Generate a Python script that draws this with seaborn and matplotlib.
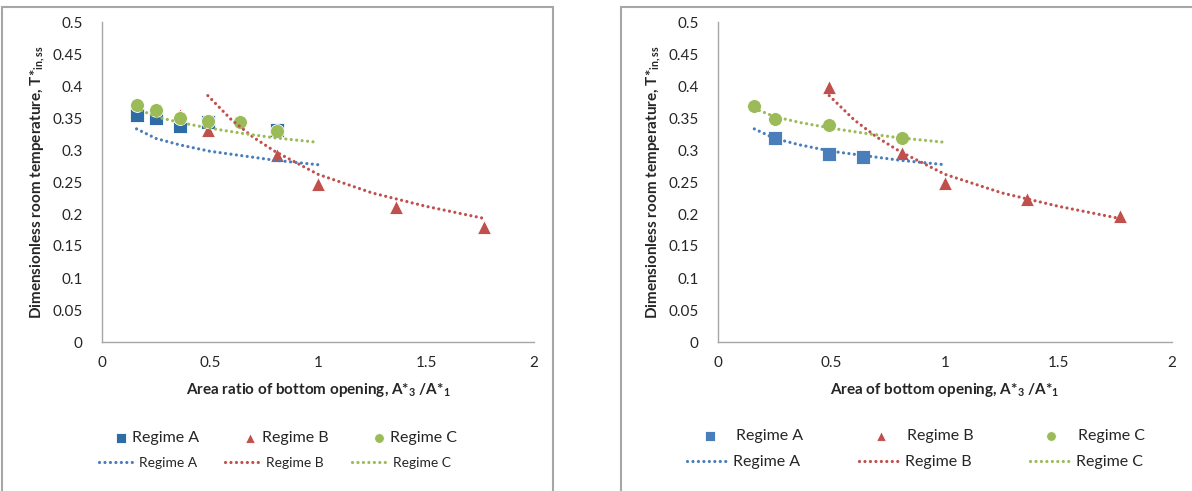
import numpy as np
import pandas as pd
import matplotlib
matplotlib.use("Agg")
import matplotlib.pyplot as plt
import seaborn as sns
from matplotlib.patches import Rectangle

# ---- data ----
left_A_x = [0.16, 0.25, 0.36, 0.49, 0.81]
left_A_y = [0.355, 0.350, 0.337, 0.344, 0.332]
left_B_x = [0.36, 0.49, 0.81, 1.00, 1.36, 1.77]
left_B_y = [0.354, 0.331, 0.292, 0.247, 0.211, 0.179]
left_C_x = [0.16, 0.25, 0.36, 0.49, 0.64, 0.81]
left_C_y = [0.371, 0.362, 0.350, 0.345, 0.343, 0.330]

right_A_x = [0.25, 0.49, 0.64]
right_A_y = [0.319, 0.294, 0.289]
right_B_x = [0.49, 0.81, 1.00, 1.36, 1.77]
right_B_y = [0.398, 0.296, 0.248, 0.223, 0.197]
right_C_x = [0.16, 0.25, 0.49, 0.81]
right_C_y = [0.368, 0.349, 0.339, 0.319]

# trendlines (same in both panels)
trend_A_x = [0.16, 0.25, 0.36, 0.50, 0.65, 0.80, 1.00]
trend_A_y = [0.333, 0.318, 0.308, 0.298, 0.291, 0.284, 0.277]
trend_B_x = [0.49, 0.60, 0.70, 0.80, 1.00, 1.25, 1.50, 1.77]
trend_B_y = [0.385, 0.347, 0.320, 0.298, 0.262, 0.233, 0.212, 0.193]
trend_C_x = [0.16, 0.25, 0.36, 0.50, 0.65, 0.80, 1.00]
trend_C_y = [0.365, 0.352, 0.343, 0.334, 0.326, 0.319, 0.312]

regimes = ["Regime A", "Regime B", "Regime C"]
y_ticks = [0, 0.05, 0.1, 0.15, 0.2, 0.25, 0.3, 0.35, 0.4, 0.45, 0.5]
y_ticklabels = ["0", "0.05", "0.1", "0.15", "0.2", "0.25", "0.3", "0.35", "0.4", "0.45", "0.5"]
x_ticks = [0, 0.5, 1, 1.5, 2]
x_ticklabels = ["0", "0.5", "1", "1.5", "2"]

sns.set_style("white")
plt.rcParams['font.family'] = ['Lato', 'DejaVu Sans']
plt.rcParams['mathtext.fontset'] = 'custom'
plt.rcParams['mathtext.rm'] = 'Lato'
plt.rcParams['mathtext.bf'] = 'Lato:bold'

line_colors = {"Regime A": "#4a7ebb", "Regime B": "#c0504d", "Regime C": "#9bbb59"}
markers = {"Regime A": "s", "Regime B": "^", "Regime C": "o"}
dotted = (0, (0.01, 1.7))

fig = plt.figure(figsize=(11.92, 4.91), dpi=100)

# chart frames like the Excel chart areas
fig.patches.append(Rectangle((2 / 1192, -0.1), 551 / 1192, 1.1 - 7 / 491, transform=fig.transFigure,
                             fill=False, edgecolor="#a6a6a6", linewidth=1.5))
fig.patches.append(Rectangle((621 / 1192, -0.1), 0.5, 1.1 - 7 / 491, transform=fig.transFigure,
                             fill=False, edgecolor="#a6a6a6", linewidth=1.5))

ax1 = fig.add_axes([102 / 1192, 1 - 342 / 491, 432 / 1192, 320 / 491])
ax2 = fig.add_axes([718 / 1192, 1 - 342 / 491, 454 / 1192, 320 / 491])

panels = [
    (ax1, [(left_A_x, left_A_y), (left_B_x, left_B_y), (left_C_x, left_C_y)],
     "#2e6ca5", "Area ratio of bottom opening, A*$_{\\mathbf{3}}$ /A*$_{\\mathbf{1}}$"),
    (ax2, [(right_A_x, right_A_y), (right_B_x, right_B_y), (right_C_x, right_C_y)],
     "#4a7ebb", "Area of bottom opening, A*$_{\\mathbf{3}}$ /A*$_{\\mathbf{1}}$"),
]
trends = [(trend_A_x, trend_A_y), (trend_B_x, trend_B_y), (trend_C_x, trend_C_y)]

legend_handles = []
for ax, series, sq_color, xlabel in panels:
    mk_colors = {"Regime A": sq_color, "Regime B": "#c0504d", "Regime C": "#9bbb59"}
    for name, (xs, ys) in zip(regimes, series):
        df = pd.DataFrame({"x": xs, "y": ys})
        sns.scatterplot(data=df, x="x", y="y", ax=ax, marker=markers[name],
                        color=mk_colors[name], s=100, linewidth=0.6,
                        edgecolor="white", label=name, zorder=3)
    for name, (xs, ys) in zip(regimes, trends):
        df = pd.DataFrame({"x": xs, "y": ys})
        sns.lineplot(data=df, x="x", y="y", ax=ax, color=line_colors[name],
                     linewidth=2.3, linestyle=dotted, label=name,
                     dash_capstyle="round", zorder=4)
    ax.set_xlim(0, 2)
    ax.set_ylim(0, 0.5)
    ax.set_xticks(x_ticks)
    ax.set_xticklabels(x_ticklabels, fontsize=11)
    ax.set_yticks(y_ticks)
    ax.set_yticklabels(y_ticklabels, fontsize=11)
    ax.tick_params(length=0, pad=10)
    ax.tick_params(axis="y", pad=14)
    for side in ["top", "right"]:
        ax.spines[side].set_visible(False)
    for side in ["left", "bottom"]:
        ax.spines[side].set_color("#a6a6a6")
        ax.spines[side].set_linewidth(1.0)
    ax.set_xlabel(xlabel, fontsize=11, fontweight="bold", labelpad=8)
    ax.set_ylabel("Dimensionless room temperature, T*$_{\\mathbf{in,ss}}$",
                  fontsize=11, fontweight="bold", labelpad=4)
    ax.get_legend().remove()
    h, l = ax.get_legend_handles_labels()
    legend_handles.append((h, l))

# legends below each panel: markers row and trendline row
(h1, l1), (h2, l2) = legend_handles
fig.legend(h1[:3], l1[:3], loc="center left", bbox_to_anchor=(97 / 1192, 1 - 438 / 491),
           ncol=3, frameon=False, fontsize=11.5, handletextpad=0.1, columnspacing=2.6,
           handlelength=1.2, markerscale=0.7)
fig.legend(h1[3:], l1[3:], loc="center left", bbox_to_anchor=(86 / 1192, 1 - 463 / 491),
           ncol=3, frameon=False, fontsize=10, handletextpad=0.35, columnspacing=2.0,
           handlelength=2.6)
fig.legend(h2[:3], l2[:3], loc="center left", bbox_to_anchor=(686 / 1192, 1 - 436 / 491),
           ncol=3, frameon=False, fontsize=11.5, handletextpad=1.05, columnspacing=4.25,
           handlelength=1.2, markerscale=0.7)
fig.legend(h2[3:], l2[3:], loc="center left", bbox_to_anchor=(673 / 1192, 1 - 462 / 491),
           ncol=3, frameon=False, fontsize=11.5, handletextpad=0.25, columnspacing=3.7,
           handlelength=2.6)

fig.savefig("out.png", dpi=100)
